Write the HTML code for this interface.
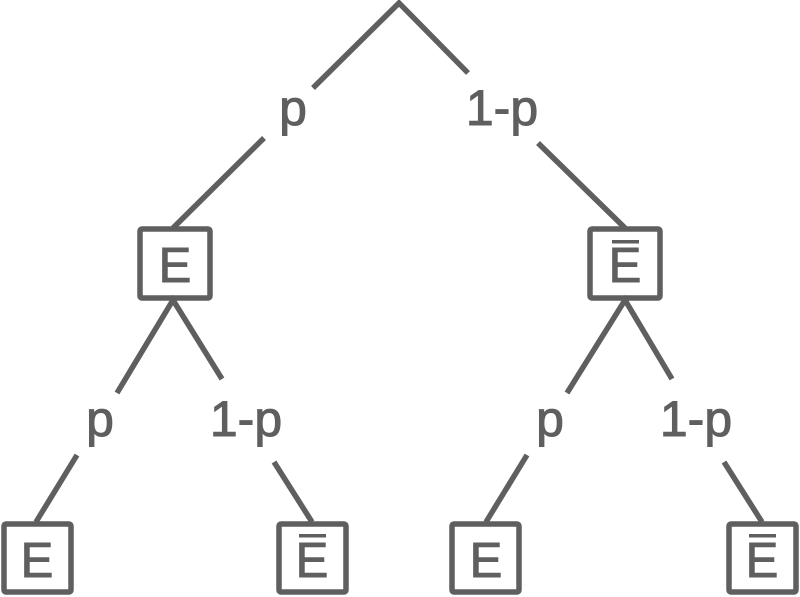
<!DOCTYPE html>
<html><head><style>html,body{margin:0;padding:0;background:#fff}svg{display:block}</style></head><body>
<svg width="800" height="597" viewBox="0 0 800 597" xmlns="http://www.w3.org/2000/svg">
<g stroke="#5f5f5f" stroke-width="5.5" fill="none" stroke-linecap="butt">
<polyline points="313,88 399,3 468,73"/>
<line x1="264" y1="138" x2="173" y2="228"/>
<line x1="538" y1="143" x2="625" y2="228"/>
<rect x="140" y="229" width="70" height="69" rx="2"/>
<rect x="590" y="229" width="70" height="69" rx="2"/>
<polyline points="117,393 173,300 222,379"/>
<line x1="77" y1="455" x2="36" y2="522"/>
<line x1="274" y1="462" x2="312" y2="522"/>
<polyline points="567,393 625,300 672,379"/>
<line x1="527" y1="455" x2="486" y2="522"/>
<line x1="724" y1="462" x2="762" y2="522"/>
<rect x="4" y="524" width="67" height="68" rx="2"/>
<rect x="279" y="524" width="67" height="68" rx="2"/>
<rect x="452" y="524" width="67" height="68" rx="2"/>
<rect x="729" y="524" width="67" height="68" rx="2"/>
</g>
<g fill="#5f5f5f" stroke="#5f5f5f" stroke-width="1" font-family="Liberation Sans, sans-serif" font-size="50" text-anchor="middle">
<text x="293" y="125">p</text>
<text x="502" y="125">1-p</text>
<text x="100" y="436">p</text>
<text x="246" y="436">1-p</text>
<text x="550" y="436">p</text>
<text x="696" y="436">1-p</text>
</g>
<g fill="#5f5f5f" stroke="#5f5f5f" stroke-width="1" font-family="Liberation Sans, sans-serif" font-size="49" text-anchor="middle">
<text x="175" y="282">E</text>
<text x="625" y="282">E</text>
<text x="37" y="577">E</text>
<text x="312" y="577">E</text>
<text x="486" y="577">E</text>
<text x="762" y="577">E</text>
</g>
<g fill="#5f5f5f">
<rect x="612" y="240" width="27" height="3.5"/>
<rect x="299" y="534" width="27" height="3.5"/>
<rect x="749" y="534" width="27" height="3.5"/>
</g>
</svg>
</body></html>
